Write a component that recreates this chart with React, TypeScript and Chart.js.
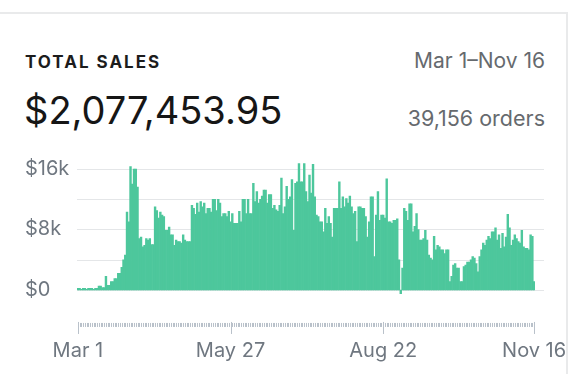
import React, { useEffect, useRef } from 'react';
import { Chart, registerables } from 'chart.js';

Chart.register(...registerables);

// Daily total sales in thousands of dollars, by month (Mar 1 – Nov 16)
const mar = [0.2, 0.2, 0.1, 0.2, 0.2, 0.1, 0.2, 0.2, 0.2, 0.1, 0.2, 0.2, 0.5, 0.5, 0.3, 0.3, 1.8, 0.6, 0.6, 1.1, 1.1, 1.5, 1.5, 2.2, 2.2, 3.0, 4.0, 4.6, 10.3, 9.0, 16.3];
const apr = [14.0, 16.0, 16.0, 13.6, 6.8, 7.0, 5.7, 5.9, 6.8, 6.6, 6.8, 6.0, 6.0, 11.0, 10.5, 9.5, 10.3, 9.9, 9.7, 7.9, 7.9, 8.3, 7.3, 7.3, 5.9, 6.6, 6.4, 6.4, 6.2, 7.3];
const may = [6.6, 6.4, 6.4, 6.4, 11.2, 10.8, 10.0, 11.5, 10.3, 11.7, 11.0, 11.5, 10.1, 10.8, 10.8, 10.3, 12.0, 12.0, 10.5, 12.0, 11.5, 9.7, 10.1, 10.1, 9.7, 10.4, 9.0, 10.1, 8.8, 8.8, 8.8];
const jun = [10.4, 9.0, 12.0, 12.0, 10.1, 12.0, 10.1, 10.1, 14.1, 11.7, 13.0, 11.5, 12.0, 12.4, 13.2, 13.2, 11.5, 12.6, 12.6, 10.8, 11.2, 10.6, 10.4, 11.2, 14.8, 10.1, 11.0, 13.7, 12.0, 12.3];
const jul = [14.6, 7.9, 14.1, 14.3, 16.7, 14.3, 14.3, 16.7, 13.0, 11.7, 15.2, 12.8, 16.6, 12.3, 9.9, 9.7, 9.0, 9.0, 7.7, 10.8, 8.8, 9.7, 8.8, 7.0, 10.8, 10.8, 10.8, 14.3, 10.8, 12.3, 11.0];
const aug = [12.1, 11.5, 12.4, 11.0, 10.1, 10.4, 6.4, 11.0, 11.0, 10.8, 10.8, 9.7, 7.0, 9.0, 12.3, 12.3, 4.4, 9.9, 13.0, 9.2, 9.9, 9.9, 9.5, 14.7, 9.0, 9.0, 8.8, 9.2, 9.2, 9.4, 4.0];
const sep = [-0.5, 2.9, 10.8, 10.4, 9.2, 11.4, 11.4, 7.7, 8.4, 10.1, 8.0, 6.6, 6.6, 6.8, 7.9, 6.6, 4.6, 4.2, 4.0, 7.1, 5.3, 5.9, 5.7, 5.3, 5.3, 4.8, 5.3, 5.3, 1.1, 1.8];
const oct = [3.3, 3.5, 2.9, 2.9, 1.1, 1.1, 3.1, 3.3, 3.7, 3.7, 4.0, 4.4, 4.2, 3.5, 2.4, 4.4, 5.3, 6.2, 5.9, 6.6, 7.1, 6.8, 7.7, 7.7, 8.2, 6.6, 7.3, 5.5, 7.5, 5.7, 7.0];
const nov = [10.0, 8.2, 5.9, 6.6, 7.3, 6.8, 6.4, 6.2, 7.9, 5.7, 5.5, 5.5, 5.3, 7.3, 7.1, 1.1];

const monthNames = ['Mar', 'Apr', 'May', 'Jun', 'Jul', 'Aug', 'Sep', 'Oct', 'Nov'];
const monthSeries = [mar, apr, may, jun, jul, aug, sep, oct, nov];

const categories: string[] = [];
monthSeries.forEach((arr, m) => arr.forEach((_, d) => categories.push(`${monthNames[m]} ${d + 1}`)));
const salesK: number[] = ([] as number[]).concat(...monthSeries);

const xTickLabels = ['Mar 1', 'May 27', 'Aug 22', 'Nov 16'];
const yLabelValues = [0, 8, 16];
const yGridValues = [0, 4, 8, 12, 16];

const GRAY = '#6f7780';
const FONT = 'Inter, "Open Sans", sans-serif';

const gridPlugin = {
  id: 'extGrid',
  beforeDatasetsDraw(chart: any) {
    const { ctx, chartArea, scales } = chart;
    const y = scales.y;
    ctx.save();
    ctx.strokeStyle = '#e4e6e8';
    ctx.lineWidth = 1;
    yGridValues.forEach((v) => {
      const py = Math.round(y.getPixelForValue(v)) + 0.5;
      ctx.beginPath();
      ctx.moveTo(chartArea.left, py);
      ctx.lineTo(chartArea.right + 9, py);
      ctx.stroke();
    });
    ctx.restore();
  },
};

const railPlugin = {
  id: 'rail',
  afterDraw(chart: any) {
    const { ctx, scales } = chart;
    const x = scales.x;
    const y = scales.y;
    const base = y.getPixelForValue(0);
    ctx.save();
    ctx.fillStyle = '#b9c1ca';
    for (let i = 0; i < categories.length; i++) {
      const px = Math.round(x.getPixelForValue(i));
      const major = xTickLabels.includes(categories[i]);
      if (major) ctx.fillRect(px, base + 32, 1, 12);
      else ctx.fillRect(px, base + 33, 1, 4);
    }
    ctx.fillStyle = GRAY;
    ctx.font = `20px ${FONT}`;
    ctx.textAlign = 'center';
    ctx.textBaseline = 'middle';
    xTickLabels.forEach((lab) => {
      const i = categories.indexOf(lab);
      ctx.fillText(lab, x.getPixelForValue(i), base + 61);
    });
    ctx.restore();
  },
};

function SalesChart() {
  const ref = useRef<HTMLCanvasElement | null>(null);
  useEffect(() => {
    if (!ref.current) return;
    const chart = new Chart(ref.current, {
      type: 'bar',
      data: {
        labels: categories,
        datasets: [
          {
            data: salesK,
            backgroundColor: '#4dc79c',
            borderWidth: 0,
            barPercentage: 1,
            categoryPercentage: 1,
          },
        ],
      },
      options: {
        animation: false,
        responsive: false,
        maintainAspectRatio: false,
        events: [],
        layout: { padding: { top: 21.4, right: 41, bottom: 0, left: 0 } },
        plugins: { legend: { display: false }, tooltip: { enabled: false }, title: { display: false } },
        scales: {
          x: {
            grid: { display: false, drawTicks: false },
            border: { display: false },
            ticks: { display: false },
            afterFit: (s: any) => { s.height = 79.5; s.paddingLeft = 0; s.paddingRight = 0; },
          },
          y: {
            min: -0.6,
            max: 17,
            grid: { display: false, drawTicks: false },
            border: { display: false },
            afterFit: (s: any) => { s.width = 52; },
            afterBuildTicks: (s: any) => { s.ticks = yLabelValues.map((v) => ({ value: v })); },
            ticks: {
              crossAlign: 'far',
              padding: 0,
              color: GRAY,
              font: { family: FONT, size: 20 },
              callback: (v: any) => (v === 0 ? '$0' : `$${v}k`),
            },
          },
        },
      },
      plugins: [gridPlugin, railPlugin],
    });
    return () => chart.destroy();
  }, []);
  return <canvas ref={ref} width={551} height={234} style={{ position: 'absolute', left: 25, top: 140, width: 551, height: 234 }} />;
}

export default function App() {
  return (
    <div style={{ position: 'fixed', left: 0, top: 0, width: 576, height: 374, background: '#fff', overflow: 'hidden', fontFamily: FONT }}>
      <div style={{ position: 'absolute', left: -2, top: 12, width: 568, height: 400, borderTop: '2px solid #e9eaeb', borderRight: '2px solid #e9eaeb' }} />
      <div style={{ position: 'absolute', left: 25, top: 53, fontSize: 17, lineHeight: '18px', fontWeight: 700, letterSpacing: 2, color: '#1c1c1c' }}>TOTAL SALES</div>
      <div style={{ position: 'absolute', right: 31, top: 49, fontSize: 21, lineHeight: '24px', color: '#666a6e' }}>Mar 1–Nov 16</div>
      <div style={{ position: 'absolute', left: 24, top: 89, fontSize: 38, lineHeight: '42px', color: '#161616' }}>$2,077,453.95</div>
      <div style={{ position: 'absolute', right: 31, top: 106, fontSize: 21.5, lineHeight: '24px', color: '#666a6e' }}>39,156 orders</div>
      <SalesChart />
    </div>
  );
}
